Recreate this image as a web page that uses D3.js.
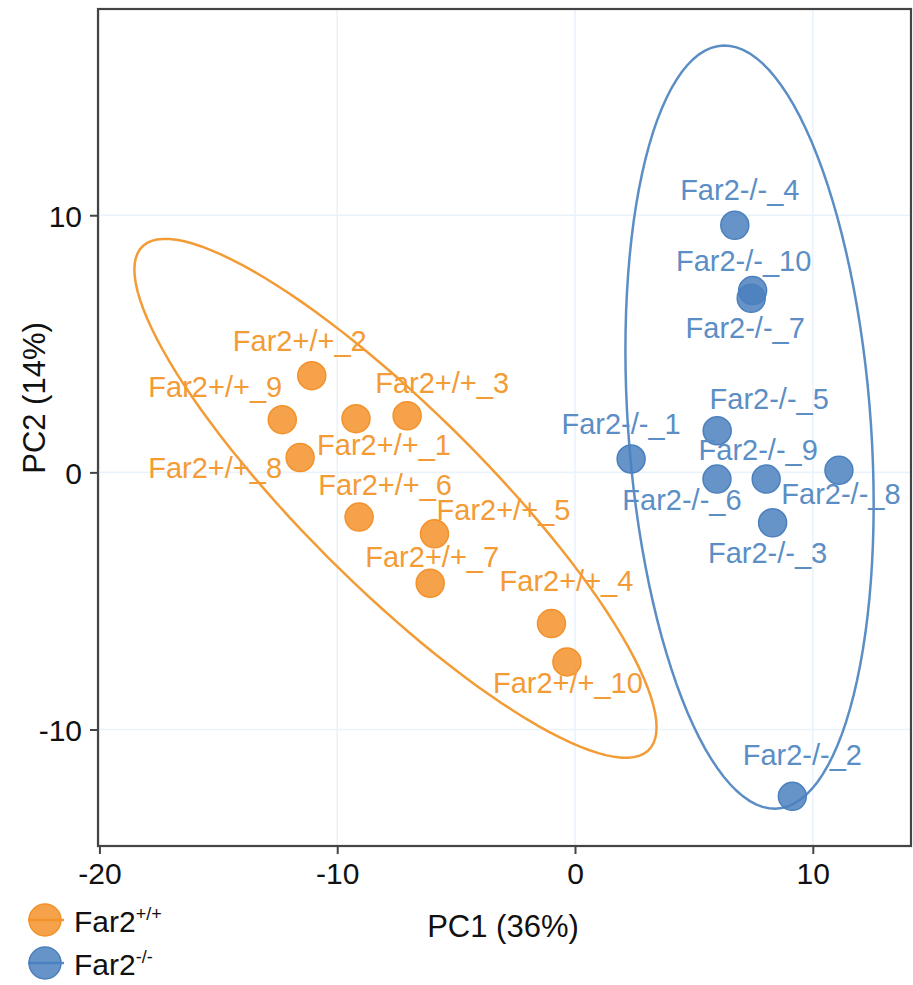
<!DOCTYPE html>
<html>
<head>
<meta charset="utf-8">
<script src="https://cdn.jsdelivr.net/npm/d3@7/dist/d3.min.js"></script>
<style>
  html, body { margin: 0; padding: 0; background: #fff; }
  svg { display: block; font-family: "Liberation Sans", Arial, Helvetica, sans-serif; }
</style>
</head>
<body>
<svg id="chart" width="913" height="985"></svg>
<script>
// ---------------- data ----------------
const groups = ["Far2+/+", "Far2-/-"];

const wtNames = ["Far2+/+_1","Far2+/+_2","Far2+/+_3","Far2+/+_4","Far2+/+_5","Far2+/+_6","Far2+/+_7","Far2+/+_8","Far2+/+_9","Far2+/+_10"];
const wtPC1   = [-9.21, -11.07, -7.06, -0.99, -5.91, -9.08, -6.09, -11.56, -12.31, -0.34];
const wtPC2   = [ 2.09,   3.76,  2.20, -5.88, -2.39, -1.74, -4.31,   0.58,   2.05, -7.37];

const koNames = ["Far2-/-_1","Far2-/-_2","Far2-/-_3","Far2-/-_4","Far2-/-_5","Far2-/-_6","Far2-/-_7","Far2-/-_8","Far2-/-_9","Far2-/-_10"];
const koPC1   = [2.36,   9.14,  8.31, 6.72, 5.98,  5.97, 7.41, 11.10,  8.04, 7.47];
const koPC2   = [0.52, -12.60, -1.96, 9.61, 1.62, -0.26, 6.77,  0.08, -0.26, 7.07];

// confidence ellipses (data units): centre, half-extent in x / y, cross term
const wtEllipseCenter = [-7.55, -1.01];
const wtEllipseExtent = [10.98, 10.09];
const wtEllipseCross  = -97.7;
const koEllipseCenter = [7.34, 1.76];
const koEllipseExtent = [5.22, 14.84];
const koEllipseCross  = -15.6;

const xTicks = [-20, -10, 0, 10];
const yTicks = [-10, 0, 10];
const xTitle = "PC1 (36%)";
const yTitle = "PC2 (14%)";

// ---------------- layout / style ----------------
const colors = { wt: "#F39B35", ko: "#5B8EC5" };
const pointFill = { wt: "#F3922A", ko: "#4B80BE" };
const plot = { left: 98, right: 911, top: 9, bottom: 846 };

// label nudges in px: [dx of text centre, dy of baseline]
const labelNudge = {
  "Far2+/+_1": [28, 36], "Far2+/+_2": [-12, -25], "Far2+/+_3": [35, -23], "Far2+/+_4": [15, -33],
  "Far2+/+_5": [69, -14], "Far2+/+_6": [26, -22], "Far2+/+_7": [2, -16], "Far2+/+_8": [-85, 21],
  "Far2+/+_9": [-67, -23], "Far2+/+_10": [1, 31],
  "Far2-/-_1": [-10, -25], "Far2-/-_2": [10, -31], "Far2-/-_3": [-5, 40], "Far2-/-_4": [5, -25],
  "Far2-/-_5": [52, -22], "Far2-/-_6": [-35, 31], "Far2-/-_7": [-6, 40], "Far2-/-_8": [2, 34],
  "Far2-/-_9": [-8, -19], "Far2-/-_10": [-9, -20]
};

const svg = d3.select("#chart");

const x = d3.scaleLinear().domain([-20.06, 14.13]).range([plot.left, plot.right]);
const y = d3.scaleLinear().domain([-14.53, 18.02]).range([plot.bottom, plot.top]);

// gridlines
const grid = svg.append("g");
grid.selectAll("line.vx").data(xTicks).enter().append("line")
  .attr("x1", d => x(d)).attr("x2", d => x(d))
  .attr("y1", plot.top).attr("y2", plot.bottom)
  .attr("stroke", "#EAF3FB").attr("stroke-width", 1.6);
grid.selectAll("line.hy").data(yTicks).enter().append("line")
  .attr("y1", d => y(d)).attr("y2", d => y(d))
  .attr("x1", plot.left).attr("x2", plot.right)
  .attr("stroke", "#EAF3FB").attr("stroke-width", 1.6);

// ellipses
function ellipsePts(c, ext, k) {
  const l11 = ext[0], l21 = k / ext[0];
  const l22 = Math.sqrt(Math.max(ext[1] * ext[1] - l21 * l21, 0));
  const pts = [];
  for (let i = 0; i < 120; i++) {
    const t = 2 * Math.PI * i / 120;
    pts.push([c[0] + l11 * Math.cos(t), c[1] + l21 * Math.cos(t) + l22 * Math.sin(t)]);
  }
  return pts;
}
const line = d3.line().x(d => x(d[0])).y(d => y(d[1])).curve(d3.curveLinearClosed);
svg.append("path").attr("d", line(ellipsePts(wtEllipseCenter, wtEllipseExtent, wtEllipseCross)))
  .attr("fill", "none").attr("stroke", colors.wt).attr("stroke-width", 2.5);
svg.append("path").attr("d", line(ellipsePts(koEllipseCenter, koEllipseExtent, koEllipseCross)))
  .attr("fill", "none").attr("stroke", colors.ko).attr("stroke-width", 2.5);

// points
const wt = wtNames.map((n, i) => ({ name: n, pc1: wtPC1[i], pc2: wtPC2[i], g: "wt" }));
const ko = koNames.map((n, i) => ({ name: n, pc1: koPC1[i], pc2: koPC2[i], g: "ko" }));
const all = wt.concat(ko);

svg.append("g").selectAll("circle").data(all).enter().append("circle")
  .attr("cx", d => x(d.pc1)).attr("cy", d => y(d.pc2)).attr("r", 14)
  .attr("fill", d => pointFill[d.g]).attr("fill-opacity", 0.85)
  .attr("stroke", d => pointFill[d.g]).attr("stroke-width", 1.5);

// labels
svg.append("g").selectAll("text").data(all).enter().append("text")
  .attr("x", d => x(d.pc1) + labelNudge[d.name][0])
  .attr("y", d => y(d.pc2) + labelNudge[d.name][1])
  .attr("text-anchor", "middle")
  .attr("font-size", 29)
  .attr("fill", d => colors[d.g])
  .text(d => d.name);

// axes
const fmt = d => String(d);
const xAxis = svg.append("g").attr("transform", `translate(0,${plot.bottom})`)
  .call(d3.axisBottom(x).tickValues(xTicks).tickSize(8).tickPadding(7).tickFormat(fmt));
const yAxis = svg.append("g").attr("transform", `translate(${plot.left},0)`)
  .call(d3.axisLeft(y).tickValues(yTicks).tickSize(8).tickPadding(8).tickFormat(fmt));
[xAxis, yAxis].forEach(a => {
  a.select(".domain").remove();
  a.selectAll(".tick line").attr("stroke", "#444").attr("stroke-width", 2);
  a.selectAll(".tick text").attr("font-size", 30).attr("fill", "#111")
    .attr("font-family", "'Liberation Sans', Arial, sans-serif");
});
yAxis.selectAll(".tick text").attr("dy", "0.36em");
xAxis.selectAll(".tick text").attr("dy", "0.76em");

// panel border
svg.append("rect").attr("x", plot.left).attr("y", plot.top)
  .attr("width", plot.right - plot.left).attr("height", plot.bottom - plot.top)
  .attr("fill", "none").attr("stroke", "#444").attr("stroke-width", 2.2);

// axis titles
svg.append("text").attr("x", 503).attr("y", 937).attr("text-anchor", "middle")
  .attr("font-size", 31).attr("fill", "#111").text(xTitle);
svg.append("text").attr("transform", "translate(45,398) rotate(-90)").attr("text-anchor", "middle")
  .attr("font-size", 31).attr("fill", "#111").text(yTitle);

// legend
const legend = svg.append("g");
const legItems = [
  { g: "wt", base: "Far2", sup: "+/+" },
  { g: "ko", base: "Far2", sup: "-/-" }
];
legItems.forEach((it, i) => {
  const cy = 920 + i * 43;
  legend.append("line").attr("x1", 28).attr("x2", 64).attr("y1", cy).attr("y2", cy)
    .attr("stroke", colors[it.g]).attr("stroke-width", 2.4);
  legend.append("circle").attr("cx", 45).attr("cy", cy).attr("r", 16)
    .attr("fill", pointFill[it.g]).attr("fill-opacity", 0.85)
    .attr("stroke", pointFill[it.g]).attr("stroke-width", 1.5);
  const t = legend.append("text").attr("x", 74).attr("y", cy + 12).attr("font-size", 30).attr("fill", "#111");
  t.append("tspan").text(it.base);
  t.append("tspan").attr("font-size", 18).attr("dy", -12).text(it.sup);
});
</script>
</body>
</html>
